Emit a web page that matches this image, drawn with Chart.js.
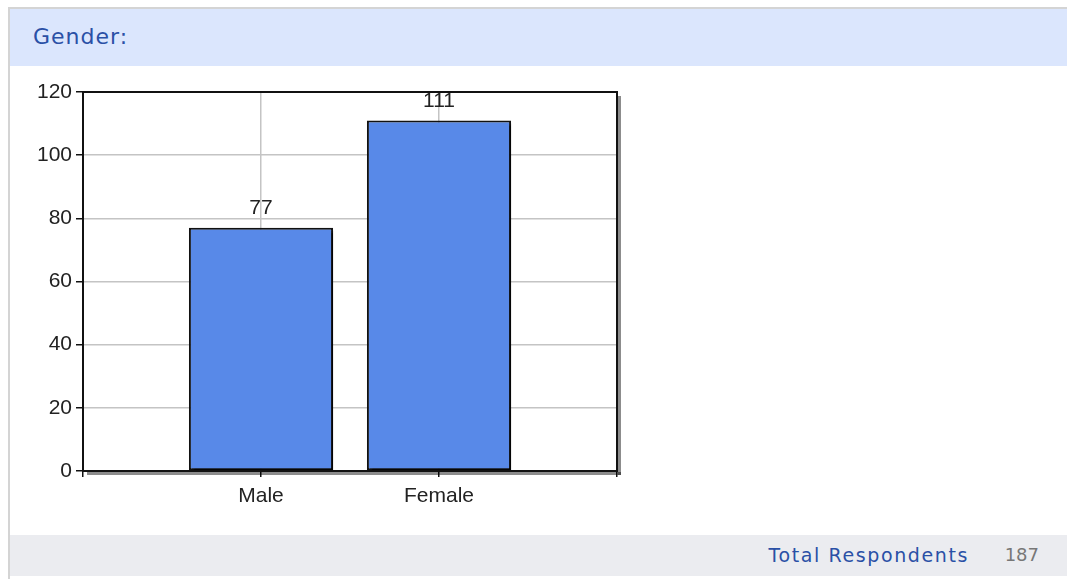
<!DOCTYPE html>
<html>
<head>
<meta charset="utf-8">
<script src="https://cdn.jsdelivr.net/npm/chart.js@4.4.1/dist/chart.umd.min.js"></script>
<style>
  html, body { margin: 0; padding: 0; background: #fff; width: 1067px; height: 579px; overflow: hidden; }
  .frame { position: absolute; left: 8px; top: 7px; width: 1070px; height: 600px; border-left: 2px solid #d4d4d4; border-top: 2px solid #d4d4d4; }
  .head { position: absolute; left: 10px; top: 9px; width: 1057px; height: 57px; background: #dbe6fd; }
  .head span { position: absolute; left: 23px; top: 15px; font: 22px "DejaVu Sans", Verdana, sans-serif; letter-spacing: 1px; color: #2a50a6; }
  .foot { position: absolute; left: 10px; top: 535px; width: 1057px; height: 41px; background: #ebecf0; }
  .foot .lbl { position: absolute; right: 98px; top: 9px; font: 19px "DejaVu Sans", Verdana, sans-serif; letter-spacing: 1.6px; color: #2a50a6; }
  .foot .val { position: absolute; right: 28px; top: 9px; font: 18px "DejaVu Sans", Verdana, sans-serif; color: #777; }
  .wrap { position: absolute; left: 20px; top: 72px; width: 620px; height: 450px; }
</style>
</head>
<body>
<div class="frame"></div>
<div class="head"><span>Gender:</span></div>
<div class="wrap"><canvas id="chart" width="620" height="450"></canvas></div>
<div class="foot"><span class="lbl">Total Respondents</span><span class="val">187</span></div>
<script>
  const categories = ["Male", "Female"];
  const counts = [77, 111];
  const yTicks = [0, 20, 40, 60, 80, 100, 120];
  const totalRespondents = 187;

  const AXIS_FONT = { family: "'Liberation Sans', Arial, sans-serif", size: 21 };
  const xMax = categories.length + 1;

  // frame round the plot, with a dark shadow on the right and bottom; bars get a shadow too
  const frame = {
    id: "frame",
    beforeDatasetsDraw(chart) {
      const { ctx, chartArea: a } = chart;
      ctx.save();
      ctx.fillStyle = "rgba(0,0,0,0.45)";
      ctx.fillRect(a.right + 1, a.top + 4, 3, a.bottom - a.top);
      ctx.fillRect(a.left + 4, a.bottom + 1, a.right - a.left, 3);
      ctx.restore();
      ctx.save();
      ctx.shadowColor = "rgba(0,0,0,0.7)";
      ctx.shadowOffsetX = 3;
      ctx.shadowOffsetY = 3;
      ctx.shadowBlur = 1;
    },
    afterDatasetsDraw(chart) {
      const { ctx, chartArea: a } = chart;
      ctx.restore();
      ctx.save();
      ctx.strokeStyle = "#111";
      ctx.lineWidth = 2;
      ctx.strokeRect(a.left, a.top, a.right - a.left, a.bottom - a.top);
      // value labels
      ctx.fillStyle = "#222";
      ctx.font = "21px 'Liberation Sans', Arial, sans-serif";
      ctx.textAlign = "center";
      ctx.textBaseline = "bottom";
      chart.getDatasetMeta(0).data.forEach((bar, i) => {
        ctx.fillText(String(counts[i]), bar.x, bar.y - 9);
      });
      ctx.restore();
    },
  };

  new Chart(document.getElementById("chart"), {
    type: "bar",
    data: {
      datasets: [{
        data: counts.map((v, i) => ({ x: i + 1, y: v })),
        backgroundColor: "#5889e8",
        borderColor: "#111",
        borderWidth: 2,
        borderSkipped: false,
        barPercentage: 0.81,
        categoryPercentage: 1,
      }],
    },
    options: {
      responsive: false,
      animation: false,
      layout: { padding: { top: 20, right: 23, left: 0, bottom: 0 } },
      plugins: { legend: { display: false }, tooltip: { enabled: false } },
      scales: {
        x: {
          type: "linear",
          offset: false,
          min: 0,
          max: xMax,
          afterFit: (s) => { s.height = 51; },
          afterBuildTicks: (s) => { s.ticks = [0, 1, 2, 3].map((v) => ({ value: v })); },
          ticks: {
            color: "#222",
            font: AXIS_FONT,
            padding: 7,
            autoSkip: false,
            maxRotation: 0,
            callback: (v) => categories[v - 1] || "",
          },
          grid: {
            offset: false,
            color: (c) => (c.tick && (c.tick.value === 0 || c.tick.value === xMax) ? "rgba(0,0,0,0)" : "#c4c4c4"),
            tickColor: "#111",
            tickLength: 6,
            lineWidth: 1.5,
          },
          border: { color: "#111", width: 2 },
        },
        y: {
          min: 0,
          max: 120,
          afterFit: (s) => { s.width = 63; },
          afterBuildTicks: (s) => { s.ticks = yTicks.map((v) => ({ value: v })); },
          ticks: { color: "#222", font: AXIS_FONT, padding: 4 },
          grid: { color: "#c4c4c4", tickColor: "#111", tickLength: 7, lineWidth: 1.5 },
          border: { color: "#111", width: 2 },
        },
      },
    },
    plugins: [frame],
  });
</script>
</body>
</html>
